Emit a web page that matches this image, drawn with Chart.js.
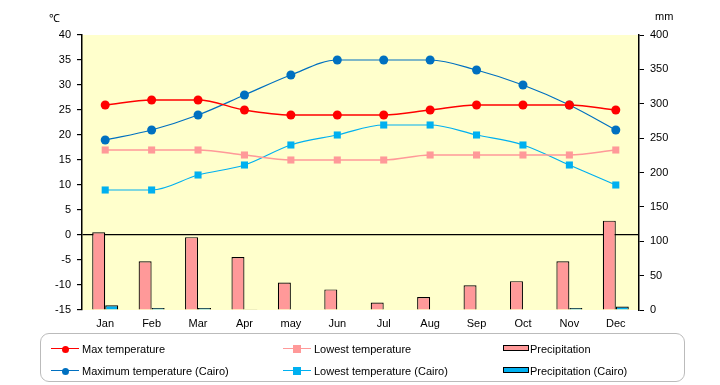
<!DOCTYPE html>
<html>
<head>
<meta charset="utf-8">
<script src="https://cdn.jsdelivr.net/npm/chart.js@4"></script>
<style>
  body { margin: 0; background: #fff; font-family: "Liberation Sans", Arial, sans-serif; }
  #wrap { position: relative; width: 720px; height: 385px; }
  #c { display: block; }
  .unit { position: absolute; top: 10px; font-size: 11px; color: #000; }
  #legend { position: absolute; left: 40px; top: 333px; width: 645px; height: 49px;
            border: 1px solid #bbb; border-radius: 9px; box-sizing: border-box; }
  .item { position: absolute; font-size: 11px; color: #000; height: 14px; line-height: 14px; }
  .item .ln { position: absolute; top: 6px; width: 28px; height: 0; border-top-width: 1.5px; border-top-style: solid; }
  .item .mk { position: absolute; }
  .item .bx { position: absolute; top: 3px; width: 24px; height: 4px; border: 1px solid #000; }
  .item span.t { position: absolute; white-space: nowrap; }
</style>
</head>
<body>
<div id="wrap">
  <canvas id="c" width="720" height="385"></canvas>
  <div class="unit" style="left:49px">℃</div>
  <div class="unit" style="left:655px">mm</div>
  <div id="legend"></div>
</div>
<script>
// 月ラベル
const months = ['Jan', 'Feb', 'Mar', 'Apr', 'may', 'Jun', 'Jul', 'Aug', 'Sep', 'Oct', 'Nov', 'Dec'];

// 気温 (℃)
const maxTemp = [26, 27, 27, 25, 24, 24, 24, 25, 26, 26, 26, 25];
const lowTemp = [17, 17, 17, 16, 15, 15, 15, 16, 16, 16, 16, 17];
const maxTempCairo = [19, 21, 24, 28, 32, 35, 35, 35, 33, 30, 26, 21];
const lowTempCairo = [9, 9, 12, 14, 18, 20, 22, 22, 20, 18, 14, 10];

// 降水量 (mm)
const precip = [113, 71, 106, 77, 40, 30, 11, 19, 36, 42, 71, 130];
const precipCairo = [7, 3, 3, 1, 0, 0, 0, 0, 0, 0, 3, 5];

const RED = '#FF0000', PINK = '#FF9999', BLUE = '#0070C0', CYAN = '#00B0F0';

// プロットエリアの背景
const plotBg = {
  id: 'plotBg',
  beforeDraw(chart) {
    const { ctx, chartArea: a } = chart;
    ctx.save();
    ctx.fillStyle = '#FFFFCC';
    ctx.fillRect(a.left, a.top, a.right - a.left, a.bottom - a.top);
    ctx.restore();
  }
};

const lineDs = (label, data, color, style, width) => ({
  type: 'line',
  label,
  data,
  yAxisID: 'y',
  borderColor: color,
  backgroundColor: color,
  borderWidth: width,
  pointStyle: style,
  pointRadius: style === 'rect' ? 5 : 4.5,
  pointBorderWidth: 0,
  cubicInterpolationMode: 'monotone',
  order: 1
});

const barDs = (label, data, color) => ({
  type: 'bar',
  label,
  data,
  yAxisID: 'y1',
  backgroundColor: color,
  borderColor: '#000',
  borderWidth: 1.2,
  categoryPercentage: 0.56,
  barPercentage: 1,
  order: 2
});

new Chart(document.getElementById('c'), {
  data: {
    labels: months,
    datasets: [
      lineDs('Max temperature', maxTemp, RED, 'circle', 1.5),
      lineDs('Lowest temperature', lowTemp, PINK, 'rect', 1.5),
      lineDs('Maximum temperature (Cairo)', maxTempCairo, BLUE, 'circle', 1.2),
      lineDs('Lowest temperature (Cairo)', lowTempCairo, CYAN, 'rect', 1.2),
      barDs('Precipitation', precip, PINK),
      barDs('Precipitation (Cairo)', precipCairo, CYAN)
    ]
  },
  options: {
    responsive: false,
    animation: false,
    layout: { padding: { left: 0, right: 0, top: 35, bottom: 55 } },
    plugins: { legend: { display: false }, tooltip: { enabled: false } },
    scales: {
      x: {
        offset: true,
        grid: { display: false, drawTicks: false },
        border: { display: false },
        ticks: { color: '#000', font: { family: 'Liberation Sans', size: 11 }, padding: 7 },
        afterFit(s) { s.height = 20; }
      },
      y: {
        position: 'left',
        min: -15, max: 40,
        ticks: { stepSize: 5, color: '#000', font: { family: 'Liberation Sans', size: 11 }, padding: 6 },
        grid: {
          drawOnChartArea: true,
          color: ctx => ctx.tick && ctx.tick.value === 0 ? '#000' : 'rgba(0,0,0,0)',
          lineWidth: 1.2,
          tickColor: '#000',
          tickLength: 5
        },
        border: { display: true, color: '#000', width: 1.5 },
        afterFit(s) { s.width = 82; }
      },
      y1: {
        position: 'right',
        min: 0, max: 400,
        ticks: { stepSize: 50, color: '#000', font: { family: 'Liberation Sans', size: 11 }, padding: 6 },
        grid: { drawOnChartArea: false, tickColor: '#000', tickLength: 5 },
        border: { display: true, color: '#000', width: 1.5 },
        afterFit(s) { s.width = 81; }
      }
    }
  },
  plugins: [plotBg]
});

// 凡例 (HTML)
const legendItems = [
  { x: 10, y: 8, text: 'Max temperature', color: RED, kind: 'circle' },
  { x: 242, y: 8, text: 'Lowest temperature', color: PINK, kind: 'rect' },
  { x: 461, y: 8, text: 'Precipitation', color: PINK, kind: 'bar' },
  { x: 10, y: 30, text: 'Maximum temperature (Cairo)', color: BLUE, kind: 'circle' },
  { x: 242, y: 30, text: 'Lowest temperature (Cairo)', color: CYAN, kind: 'rect' },
  { x: 461, y: 30, text: 'Precipitation (Cairo)', color: CYAN, kind: 'bar' }
];
const legend = document.getElementById('legend');
legendItems.forEach(it => {
  const d = document.createElement('div');
  d.className = 'item';
  d.style.left = it.x + 'px';
  d.style.top = it.y + 'px';
  let html = '';
  if (it.kind === 'bar') {
    html += `<div class="bx" style="left:1px;background:${it.color}"></div>`;
    html += `<span class="t" style="left:28px">${it.text}</span>`;
  } else {
    html += `<div class="ln" style="left:0;border-top-color:${it.color}"></div>`;
    const r = it.kind === 'circle' ? 'border-radius:50%;' : '';
    const sz = it.kind === 'circle' ? 7 : 8;
    html += `<div class="mk" style="left:${14 - sz / 2}px;top:${7 - sz / 2}px;width:${sz}px;height:${sz}px;${r}background:${it.color}"></div>`;
    html += `<span class="t" style="left:31px">${it.text}</span>`;
  }
  d.innerHTML = html;
  legend.appendChild(d);
});
</script>
</body>
</html>
